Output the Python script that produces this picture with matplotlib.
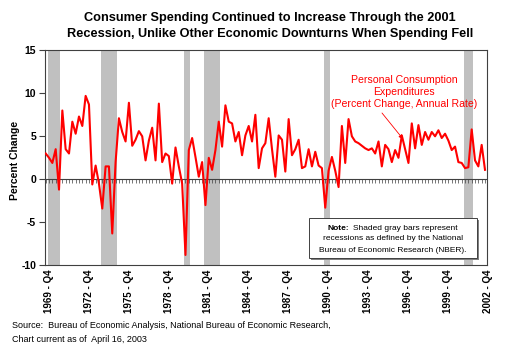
import matplotlib
matplotlib.use("Agg")
import matplotlib.pyplot as plt
import matplotlib.transforms as mtrans
from matplotlib.patches import Rectangle
import numpy as np

plt.rcParams['font.family'] = ['Liberation Sans', 'DejaVu Sans']

# ---------------- data ----------------
start_year = 1969
start_quarter = 4
pce_change = [
    3.0, 2.5, 1.9, 3.5, -1.2, 8.0, 3.5, 3.0, 6.7, 5.3,
    7.3, 6.2, 9.7, 8.7, -0.6, 1.6, -0.5, -3.4, 1.5, 1.5,
    -6.3, 2.0, 7.1, 5.5, 4.4, 8.9, 3.9, 4.6, 5.6, 5.0,
    2.2, 4.5, 6.0, 2.2, 8.8, 2.0, 3.0, 2.7, -0.5, 3.7,
    1.5, -0.5, -8.8, 3.4, 4.8, 2.6, 0.3, 2.0, -3.0, 2.5,
    1.1, 3.4, 6.7, 3.8, 8.6, 6.7, 6.5, 4.4, 5.5, 2.8,
    5.1, 6.2, 4.4, 7.5, 1.3, 3.6, 4.2, 7.1, 3.5, 0.3,
    5.1, 4.6, 0.9, 7.0, 2.8, 3.5, 4.6, 1.3, 1.5, 3.5,
    1.5, 3.2, 1.6, 1.3, -3.3, 1.0, 2.6, 1.0, -0.9, 6.2,
    1.9, 7.0, 5.0, 4.4, 4.2, 3.9, 3.6, 3.4, 3.6, 3.0,
    4.4, 1.5, 4.0, 3.5, 2.0, 3.4, 2.5, 5.1, 3.5, 1.9,
    6.5, 3.6, 6.3, 4.0, 5.5, 4.6, 5.5, 5.0, 5.7, 4.8,
    5.3, 4.5, 3.4, 3.8, 2.0, 1.9, 1.3, 1.4, 5.8, 2.2,
    1.5, 4.0, 1.1,
]
tick_labels = ["1969 - Q4", "1972 - Q4", "1975 - Q4", "1978 - Q4", "1981 - Q4",
               "1984 - Q4", "1987 - Q4", "1990 - Q4", "1993 - Q4", "1996 - Q4",
               "1999 - Q4", "2002 - Q4"]
recession_start = ["1970 - Q1", "1974 - Q1", "1980 - Q2", "1981 - Q4", "1990 - Q4", "2001 - Q2"]
recession_end = ["1970 - Q4", "1975 - Q1", "1980 - Q3", "1982 - Q4", "1991 - Q1", "2001 - Q4"]
y_ticks = [-10, -5, 0, 5, 10, 15]

# quarter category labels
quarters = []
y, q = start_year, start_quarter
for _ in pce_change:
    quarters.append(f"{y} - Q{q}")
    q += 1
    if q > 4:
        q = 1
        y += 1
xi = np.arange(len(pce_change))

W, H = 512, 350
fig = plt.figure(figsize=(W / 100, H / 100), dpi=100)
left, right, top, bottom = 44.5, 487, 50.3, 265.3
ax = fig.add_axes([left / W, 1 - bottom / H, (right - left) / W, (bottom - top) / H])

# recession shading
for s, e in zip(recession_start, recession_end):
    i0 = quarters.index(s)
    i1 = quarters.index(e)
    ax.axvspan(i0 - 0.4, i1 + 0.4, color='#C0C0C0', lw=0, zorder=1)

# zero axis with quarter ticks
ax.axhline(0, color='#404040', lw=0.8, zorder=2)
ax.vlines(xi, -0.45, 0, color='#404040', lw=0.5, zorder=2)

ax.plot(xi, pce_change, color='#FF0000', lw=1.5, zorder=3, solid_joinstyle='round')

ax.set_xlim(-0.36, len(pce_change) - 1 + 0.6)
ax.set_ylim(-10, 15)
ax.set_yticks(y_ticks)
ax.set_yticklabels([str(v) for v in y_ticks], fontsize=7.5, fontweight='bold')
ax.tick_params(axis='y', direction='out', length=4, width=0.8, pad=2, color='#404040')

ax.set_xticks([quarters.index(t) for t in tick_labels])
ax.set_xticklabels(tick_labels, rotation=90, fontsize=7, fontweight='bold', va='top')
ax.tick_params(axis='x', length=0, pad=3)
offset = mtrans.ScaledTranslation(3 / 100, 0, fig.dpi_scale_trans)
for lab in ax.get_xticklabels():
    lab.set_transform(lab.get_transform() + offset)

for sp in ax.spines.values():
    sp.set_color('#404040')
    sp.set_linewidth(0.8)

# y label
fig.text(15 / W, 1 - 160 / H, "Percent Change", rotation=90, ha='center', va='center',
         fontsize=7.5, fontweight='bold')

# title
fig.text(270 / W, 1 - 26 / H,
         "Consumer Spending Continued to Increase Through the 2001\n"
         "Recession, Unlike Other Economic Downturns When Spending Fell",
         ha='center', va='center', fontsize=9.2, fontweight='bold', linespacing=1.4)

# red annotation
fig.text(404 / W, 1 - 92 / H,
         "Personal Consumption\nExpenditures\n(Percent Change, Annual Rate)",
         ha='center', va='center', fontsize=7.6, color='#FF0000', linespacing=1.2)
ax.annotate('', xy=(403, H - 139), xytext=(382, H - 113),
            xycoords='figure pixels', textcoords='figure pixels',
            arrowprops=dict(arrowstyle='-|>', color='#FF0000', lw=0.6,
                            mutation_scale=6, shrinkA=0, shrinkB=0))

# note box
bx0, bx1, by0, by1 = 309, 477, 218, 258
fig.patches.append(Rectangle(((bx0 + 2) / W, 1 - (by1 + 2) / H), (bx1 - bx0) / W, (by1 - by0) / H,
                             transform=fig.transFigure, facecolor='#808080', edgecolor='none',
                             zorder=4))
fig.patches.append(Rectangle((bx0 / W, 1 - by1 / H), (bx1 - bx0) / W, (by1 - by0) / H,
                             transform=fig.transFigure, facecolor='white', edgecolor='#404040',
                             lw=0.7, zorder=5))
fig.text(327 / W, 1 - 228 / H, "Note:", fontsize=6, fontweight='bold', ha='left', va='center',
         zorder=6)
fig.text(353 / W, 1 - 228 / H, "Shaded gray bars represent", fontsize=6, ha='left', va='center',
         zorder=6)
fig.text(393 / W, 1 - 239 / H, "recessions as defined by the National", fontsize=6,
         ha='center', va='center', zorder=6)
fig.text(393 / W, 1 - 250 / H, "Bureau of Economic Research (NBER).", fontsize=6,
         ha='center', va='center', zorder=6)

# source
fig.text(12 / W, 1 - 325 / H,
         "Source:  Bureau of Economic Analysis, National Bureau of Economic Research,",
         fontsize=6.5, ha='left', va='center')
fig.text(12 / W, 1 - 339 / H, "Chart current as of  April 16, 2003",
         fontsize=6.5, ha='left', va='center')

fig.savefig("out.png", dpi=100)
